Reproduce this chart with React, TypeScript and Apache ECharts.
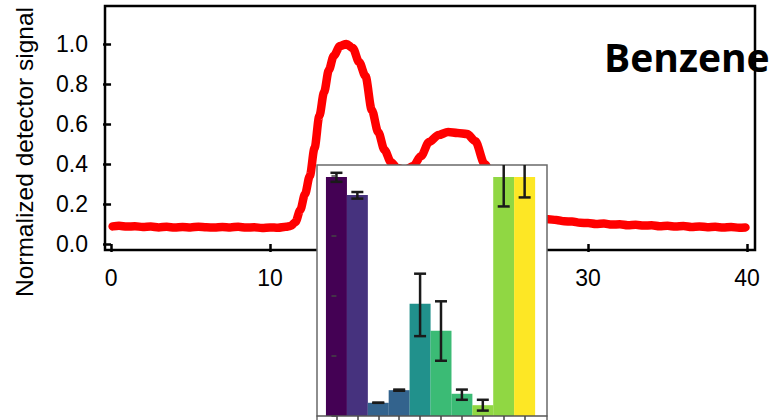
import React, { useEffect, useRef } from "react";
import * as echarts from "echarts";

// Main chromatogram trace (x: time, y: normalized signal)
const curveX = [
  0.1, 0.5, 1.0, 1.5, 2.0, 2.5, 3.0, 3.5, 4.0, 4.5, 5.0, 5.5, 6.0, 6.5, 7.0, 7.5, 8.0, 8.5, 9.0, 9.5,
  10.0, 10.5, 11.0, 11.3, 11.6, 11.9, 12.2, 12.5, 12.8, 13.1, 13.4, 13.7, 14.0, 14.4, 14.8, 15.2, 15.6,
  16.0, 16.4, 16.8, 17.2, 17.6, 18.0, 18.5, 19.0, 19.5, 20.0, 20.6, 21.2, 21.8, 22.4, 22.9, 23.5, 24.0,
  24.5, 25.0, 25.5, 26.0, 26.5, 27.0, 27.5, 28.0, 28.5, 29.0, 29.5, 30.0, 30.5, 31.0, 31.5, 32.0, 32.5,
  33.0, 33.5, 34.0, 34.5, 35.0, 35.5, 36.0, 36.5, 37.0, 37.5, 38.0, 38.5, 39.0, 39.5, 39.9,
];
const curveY = [
  0.088, 0.091, 0.087, 0.089, 0.085, 0.087, 0.083, 0.086, 0.082, 0.085, 0.083, 0.086, 0.084, 0.082,
  0.085, 0.083, 0.086, 0.082, 0.084, 0.08, 0.083, 0.081, 0.086, 0.09, 0.11, 0.17, 0.25, 0.34, 0.48,
  0.64, 0.76, 0.87, 0.94, 0.99, 1.0, 0.98, 0.91, 0.84, 0.67, 0.56, 0.47, 0.41, 0.38, 0.37, 0.39, 0.44,
  0.51, 0.545, 0.56, 0.555, 0.55, 0.515, 0.4, 0.33, 0.26, 0.21, 0.17, 0.15, 0.14, 0.13, 0.124, 0.12,
  0.114, 0.112, 0.106, 0.105, 0.1, 0.102, 0.097, 0.099, 0.094, 0.096, 0.092, 0.094, 0.089, 0.091,
  0.087, 0.09, 0.085, 0.088, 0.084, 0.086, 0.082, 0.085, 0.081, 0.083,
];
const xTicks = [0, 10, 20, 30, 40];
const yTicks = [0, 0.2, 0.4, 0.6, 0.8, 1.0];

// Inset bar chart
const barIndex = [0, 1, 2, 3, 4, 5, 6, 7, 8, 9];
const barValues = [0.398, 0.368, 0.022, 0.043, 0.187, 0.142, 0.037, 0.018, 0.398, 0.398];
const errLow = [0.39, 0.362, 0.022, 0.042, 0.133, 0.092, 0.027, 0.009, 0.349, 0.364];
const errHigh = [0.405, 0.373, 0.022, 0.044, 0.237, 0.191, 0.044, 0.027, 0.448, 0.433];
const barColors = [
  "#440154", "#46327e", "#33638d", "#33638d", "#21918c",
  "#3bbb75", "#3bbb75", "#90d743", "#90d743", "#fde725",
];
const insetYTicks = [0, 0.1, 0.2, 0.3, 0.4];

const FONT = "'Liberation Sans', Arial, Helvetica, sans-serif";

export default function App() {
  const ref = useRef<HTMLDivElement>(null);
  useEffect(() => {
    if (!ref.current) return;
    const chart = echarts.init(ref.current, null, { renderer: "svg" });
    const curve = curveX.map((x, i) => [x, curveY[i]]);
    const bars = barIndex.map((x, i) => ({
      value: [x, barValues[i]],
      itemStyle: { color: barColors[i] },
    }));
    const errs = barIndex.map((x, i) => [x, errLow[i], errHigh[i]]);

    chart.setOption({
      animation: false,
      backgroundColor: "#ffffff",
      grid: [
        {
          left: 105, top: 6, width: 650, height: 244,
          show: true, borderColor: "#000", borderWidth: 2.5, backgroundColor: "transparent",
        },
        { left: 317, top: 165, width: 230, height: 251, show: false },
      ],
      xAxis: [
        {
          type: "value", gridIndex: 0, min: -0.38, max: 40.5,
          axisLine: { show: false },
          splitLine: { show: false },
          axisTick: { show: true, customValues: xTicks, length: 8, lineStyle: { color: "#000", width: 2.5 } },
          axisLabel: {
            customValues: xTicks, margin: 16, color: "#000", fontSize: 23, fontFamily: FONT,
          },
        },
        {
          type: "value", gridIndex: 1, min: -0.93, max: 10.07, z: 12,
          axisLine: { show: true, onZero: false, lineStyle: { color: "#555", width: 1.5 } },
          splitLine: { show: false },
          axisTick: { show: true, customValues: barIndex, length: 5, lineStyle: { color: "#444", width: 1.5 } },
          axisLabel: { show: false },
        },
      ],
      yAxis: [
        {
          type: "value", gridIndex: 0, min: -0.03, max: 1.19,
          axisLine: { show: false },
          splitLine: { show: false },
          axisTick: { show: true, customValues: yTicks, length: 8, lineStyle: { color: "#000", width: 2.5 } },
          axisLabel: {
            customValues: yTicks, margin: 17, color: "#000", fontSize: 23, fontFamily: FONT,
            formatter: (v: number) => v.toFixed(1),
          },
        },
        {
          type: "value", gridIndex: 1, min: 0, max: 0.418, z: 12,
          axisLine: { show: false },
          splitLine: { show: false },
          axisTick: { show: true, customValues: insetYTicks, length: 5, lineStyle: { color: "#444", width: 1.5 } },
          axisLabel: { show: false },
        },
      ],
      graphic: [
        {
          type: "rect", z: 5,
          shape: { x: 317, y: 165, width: 230, height: 270 },
          style: { fill: "#ffffff", stroke: "#6a6a6a", lineWidth: 1.5 },
        },
        {
          type: "text", z: 20, x: 24, y: 152, rotation: Math.PI / 2,
          style: {
            text: "Normalized detector signal", fill: "#000", fontSize: 24.5, fontFamily: FONT,
            align: "center", verticalAlign: "middle",
          },
        },
        {
          type: "text", z: 20, x: 604, y: 56,
          style: {
            text: "Benzene", fill: "#000", fontSize: 39, fontWeight: "bold",
            fontFamily: "'Open Sans', 'Noto Sans', sans-serif",
            align: "left", verticalAlign: "middle",
          },
        },
      ],
      series: [
        {
          type: "line", xAxisIndex: 0, yAxisIndex: 0, data: curve, z: 2,
          showSymbol: false, smooth: 0.3, smoothMonotone: "x",
          lineStyle: { color: "#ff0000", width: 8.5, cap: "round", join: "round" },
        },
        {
          type: "bar", xAxisIndex: 1, yAxisIndex: 1, data: bars, barWidth: 21, z: 10,
        },
        {
          type: "custom", xAxisIndex: 1, yAxisIndex: 1, data: errs, z: 11,
          renderItem: (params: any, api: any) => {
            const x = api.value(0);
            const pLo = api.coord([x, api.value(1)]);
            const pHi = api.coord([x, api.value(2)]);
            const cs = params.coordSys;
            const top = Math.max(pHi[1], cs.y);
            const half = 6;
            const style = { stroke: "#1a1a1a", lineWidth: 2.5 };
            const children: any[] = [
              { type: "line", shape: { x1: pLo[0], y1: pLo[1], x2: pLo[0], y2: top }, style },
              { type: "line", shape: { x1: pLo[0] - half, y1: pLo[1], x2: pLo[0] + half, y2: pLo[1] }, style },
            ];
            if (pHi[1] >= cs.y) {
              children.push({ type: "line", shape: { x1: pHi[0] - half, y1: pHi[1], x2: pHi[0] + half, y2: pHi[1] }, style });
            }
            return { type: "group", children };
          },
        },
      ],
    });
    return () => chart.dispose();
  }, []);
  return (
    <div
      ref={ref}
      style={{ position: "fixed", left: 0, top: 0, width: 776, height: 420, background: "#fff" }}
    />
  );
}
